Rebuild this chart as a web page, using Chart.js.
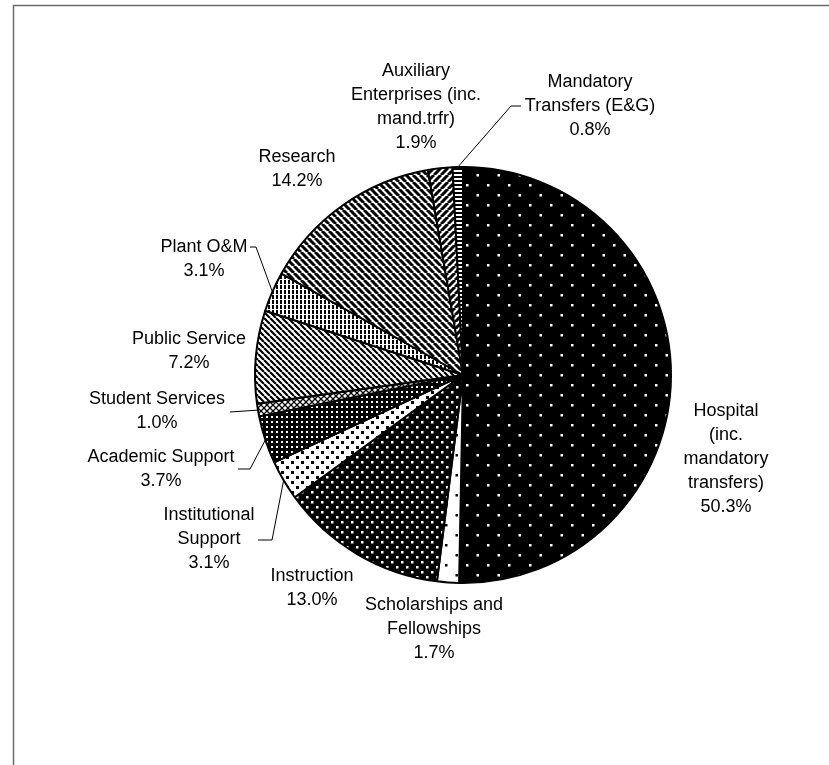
<!DOCTYPE html>
<html>
<head>
<meta charset="utf-8">
<script src="https://cdn.jsdelivr.net/npm/chart.js@4.4.1/dist/chart.umd.min.js"></script>
<style>
  html, body { margin: 0; padding: 0; background: #fff; }
  #wrap { width: 829px; height: 765px; }
</style>
</head>
<body>
<div id="wrap"><canvas id="budget" width="829" height="765"></canvas></div>
<script>
// slices, clockwise from 12 o'clock
const labelLines = [
  ['Hospital', '(inc.', 'mandatory', 'transfers)'],
  ['Scholarships and', 'Fellowships'],
  ['Instruction'],
  ['Institutional', 'Support'],
  ['Academic Support'],
  ['Student Services'],
  ['Public Service'],
  ['Plant O&M'],
  ['Research'],
  ['Auxiliary', 'Enterprises (inc.', 'mand.trfr)'],
  ['Mandatory', 'Transfers (E&G)']
];
const shares = [50.3, 1.7, 13.0, 3.1, 3.7, 1.0, 7.2, 3.1, 14.2, 1.9, 0.8];

// where each label block starts (centre of first line)
const labelPos = [
  [726, 411], [434, 605], [312, 576], [209, 515], [161, 457], [157, 399],
  [189, 339], [204, 247], [297, 157], [416, 71], [590, 82]
];
// leader lines: points near the label, the end is taken from the slice
const leaders = {
  10: [[521, 106], [511, 106]],
  7: [[250, 247], [256, 247]],
  5: [[230, 412]],
  4: [[238, 469], [250, 469]],
  3: [[258, 540], [272, 540]]
};
const lineH = 24;

const ctxMain = document.getElementById('budget').getContext('2d');

function tile(w, h, bg, draw) {
  const c = document.createElement('canvas');
  c.width = w; c.height = h;
  const g = c.getContext('2d');
  g.fillStyle = bg;
  g.fillRect(0, 0, w, h);
  draw(g, w, h);
  return ctxMain.createPattern(c, 'repeat');
}

function dots(color, pts, size) {
  return (g) => {
    g.fillStyle = color;
    pts.forEach(p => g.fillRect(p[0], p[1], size, size));
  };
}

function stripes(dir, width) {
  return (g, s) => {
    g.strokeStyle = '#000';
    g.lineWidth = width;
    g.beginPath();
    [-s, 0, s].forEach(x0 => {
      if (dir === 'back') { g.moveTo(x0, 0); g.lineTo(x0 + s, s); }
      else { g.moveTo(x0, s); g.lineTo(x0 + s, 0); }
    });
    g.stroke();
  };
}

const patterns = [
  tile(21, 20, '#000', dots('#fff', [[4, 4], [14.5, 14]], 2.5)),
  tile(21, 20, '#fff', dots('#000', [[4, 4], [14.5, 14]], 2.5)),
  tile(10, 10, '#000', dots('#fff', [[1, 1], [6, 6]], 2.5)),
  tile(10, 10, '#fff', dots('#000', [[1, 1], [6, 6]], 3)),
  tile(5, 5, '#000', dots('#fff', [[1, 1]], 2)),
  tile(6, 6, '#fff', (g) => {
    g.strokeStyle = '#000'; g.lineWidth = 1.3;
    g.beginPath();
    g.moveTo(0, 0); g.lineTo(6, 6);
    g.moveTo(0, 6); g.lineTo(6, 0);
    g.stroke();
  }),
  tile(6, 6, '#fff', stripes('back', 2.2)),
  tile(4, 5, '#fff', (g) => { g.fillStyle = '#000'; g.fillRect(0, 0, 2, 4); }),
  tile(7, 7, '#fff', stripes('back', 3)),
  tile(7, 7, '#fff', stripes('fwd', 3)),
  tile(4, 4, '#fff', (g) => { g.fillStyle = '#000'; g.fillRect(0, 0, 4, 2); })
];

const annotate = {
  id: 'annotate',
  afterDatasetsDraw(chart) {
    const ctx = chart.ctx;
    const arcs = chart.getDatasetMeta(0).data;
    ctx.save();

    // page frame
    ctx.strokeStyle = '#6b6b6b';
    ctx.lineWidth = 1.5;
    ctx.beginPath();
    ctx.moveTo(13.5, 765);
    ctx.lineTo(13.5, 5.5);
    ctx.lineTo(829, 5.5);
    ctx.stroke();

    ctx.strokeStyle = '#000';
    ctx.lineWidth = 1;
    Object.keys(leaders).forEach(k => {
      const p = arcs[k].getProps(['x', 'y', 'startAngle', 'endAngle', 'outerRadius'], true);
      const mid = (p.startAngle + p.endAngle) / 2;
      ctx.beginPath();
      leaders[k].forEach((pt, j) => j ? ctx.lineTo(pt[0], pt[1]) : ctx.moveTo(pt[0], pt[1]));
      ctx.lineTo(p.x + Math.cos(mid) * p.outerRadius, p.y + Math.sin(mid) * p.outerRadius);
      ctx.stroke();
    });

    ctx.fillStyle = '#000';
    ctx.font = '18px "Liberation Sans", Arial, sans-serif';
    ctx.textAlign = 'center';
    ctx.textBaseline = 'middle';
    labelLines.forEach((lines, i) => {
      lines.concat([shares[i].toFixed(1) + '%']).forEach((t, j) => {
        ctx.fillText(t, labelPos[i][0], labelPos[i][1] + j * lineH);
      });
    });
    ctx.restore();
  }
};

new Chart(ctxMain, {
  type: 'pie',
  data: {
    labels: labelLines.map(l => l.join(' ')),
    datasets: [{
      data: shares,
      backgroundColor: patterns,
      borderColor: '#000',
      borderWidth: 2
    }]
  },
  options: {
    responsive: false,
    animation: false,
    radius: 208,
    layout: { padding: { left: 255, right: 158, top: 167, bottom: 182 } },
    plugins: {
      legend: { display: false },
      tooltip: { enabled: false }
    }
  },
  plugins: [annotate]
});
</script>
</body>
</html>
